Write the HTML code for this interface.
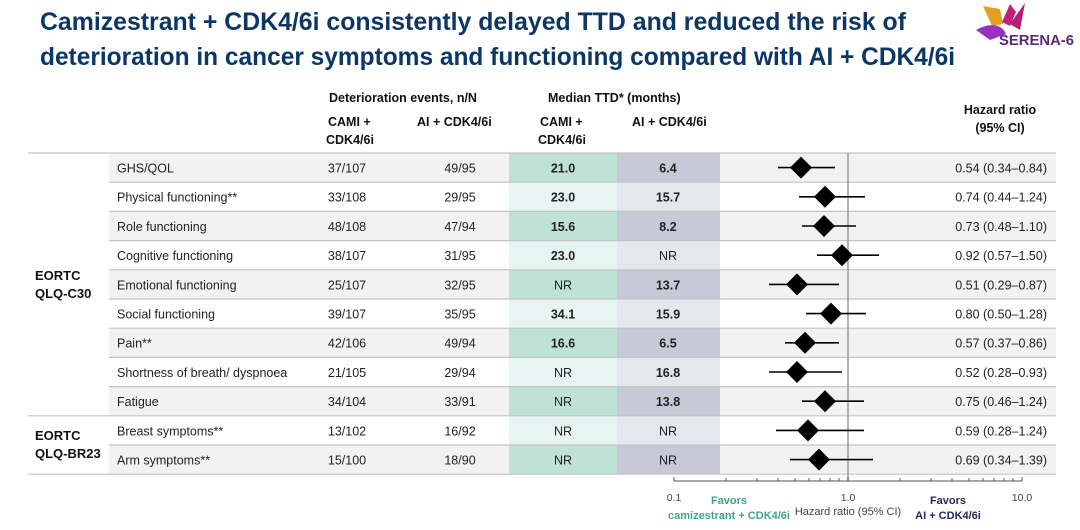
<!DOCTYPE html>
<html><head><meta charset="utf-8"><style>
html,body{margin:0;padding:0;background:#fff;}
svg{display:block;font-family:"Liberation Sans",Arial,sans-serif;}
</style></head><body>
<svg width="1080" height="530" viewBox="0 0 1080 530" xmlns="http://www.w3.org/2000/svg">
<g fill="#0c3765" font-weight="bold" font-size="25">
<text x="40" y="30" textLength="866" lengthAdjust="spacingAndGlyphs">Camizestrant + CDK4/6i consistently delayed TTD and reduced the risk of</text>
<text x="40" y="65" textLength="915" lengthAdjust="spacingAndGlyphs">deterioration in cancer symptoms and functioning compared with AI + CDK4/6i</text>
</g>
<g>
<path d="M983 6 L1000 9 L1003 24 L992 26 Z" fill="#e0a020"/>
<path d="M1002 22 L1010 4 L1016 12 L1010 26 Z" fill="#c0207a"/>
<path d="M1010 24 L1025 3 L1020 30 Z" fill="#b0207a"/>
<path d="M976 30 C990 22 1002 24 1006 34 L990 40 Z" fill="#9a30c0"/>
<text x="999" y="45" font-size="15" font-weight="bold" fill="#5a2a7a" textLength="75" lengthAdjust="spacingAndGlyphs">SERENA-6</text>
</g>
<g font-size="12.5" font-weight="bold" fill="#111">
<text x="329" y="102">Deterioration events, n/N</text>
<text x="548" y="102">Median TTD* (months)</text>
<text x="328" y="126">CAMI +</text>
<text x="326" y="144">CDK4/6i</text>
<text x="417" y="126">AI + CDK4/6i</text>
<text x="540" y="126">CAMI +</text>
<text x="538" y="144">CDK4/6i</text>
<text x="632" y="126">AI + CDK4/6i</text>
<text x="1000" y="114" text-anchor="middle">Hazard ratio</text>
<text x="1000" y="132" text-anchor="middle">(95% CI)</text>
</g>
<g>
<rect x="109" y="153" width="947" height="29.2" fill="#f2f2f2"/>
<rect x="109" y="211.4" width="947" height="29.2" fill="#f2f2f2"/>
<rect x="109" y="269.8" width="947" height="29.2" fill="#f2f2f2"/>
<rect x="109" y="328.2" width="947" height="29.2" fill="#f2f2f2"/>
<rect x="109" y="386.6" width="947" height="29.2" fill="#f2f2f2"/>
<rect x="109" y="445" width="947" height="29.2" fill="#f2f2f2"/>
<rect x="509" y="153" width="108" height="321" fill="#e6f5f1"/>
<rect x="617" y="153" width="103" height="321" fill="#e4e7ee"/>
<g fill="#bfe2d6">
<rect x="509" y="153" width="108" height="29.2"/><rect x="509" y="211.4" width="108" height="29.2"/><rect x="509" y="269.8" width="108" height="29.2"/><rect x="509" y="328.2" width="108" height="29.2"/><rect x="509" y="386.6" width="108" height="29.2"/><rect x="509" y="445" width="108" height="29.2"/>
</g>
<g fill="#c8c9d7">
<rect x="617" y="153" width="103" height="29.2"/><rect x="617" y="211.4" width="103" height="29.2"/><rect x="617" y="269.8" width="103" height="29.2"/><rect x="617" y="328.2" width="103" height="29.2"/><rect x="617" y="386.6" width="103" height="29.2"/><rect x="617" y="445" width="103" height="29.2"/>
</g>
<g stroke="#c4c4c4" stroke-width="1.2">
<line x1="28" y1="153" x2="1056" y2="153"/>
<line x1="109" y1="182.2" x2="1056" y2="182.2"/>
<line x1="109" y1="211.4" x2="1056" y2="211.4"/>
<line x1="109" y1="240.6" x2="1056" y2="240.6"/>
<line x1="109" y1="269.8" x2="1056" y2="269.8"/>
<line x1="109" y1="299" x2="1056" y2="299"/>
<line x1="109" y1="328.2" x2="1056" y2="328.2"/>
<line x1="109" y1="357.4" x2="1056" y2="357.4"/>
<line x1="109" y1="386.6" x2="1056" y2="386.6"/>
<line x1="28" y1="415.8" x2="1056" y2="415.8"/>
<line x1="109" y1="445" x2="1056" y2="445"/>
<line x1="28" y1="474.2" x2="1056" y2="474.2"/>
</g>
</g>
<g font-size="13" font-weight="bold" fill="#111">
<text x="35" y="280">EORTC</text><text x="35" y="298">QLQ-C30</text>
<text x="35" y="440">EORTC</text><text x="35" y="458">QLQ-BR23</text>
</g>
<g font-size="12.5" fill="#222">
<g transform="translate(0,172.5)"><text x="117">GHS/QOL</text><text x="347" text-anchor="middle">37/107</text><text x="460" text-anchor="middle">49/95</text><text x="563" text-anchor="middle" font-weight="bold">21.0</text><text x="668" text-anchor="middle" font-weight="bold">6.4</text><text x="1047" text-anchor="end">0.54 (0.34–0.84)</text></g>
<g transform="translate(0,201.7)"><text x="117">Physical functioning**</text><text x="347" text-anchor="middle">33/108</text><text x="460" text-anchor="middle">29/95</text><text x="563" text-anchor="middle" font-weight="bold">23.0</text><text x="668" text-anchor="middle" font-weight="bold">15.7</text><text x="1047" text-anchor="end">0.74 (0.44–1.24)</text></g>
<g transform="translate(0,230.9)"><text x="117">Role functioning</text><text x="347" text-anchor="middle">48/108</text><text x="460" text-anchor="middle">47/94</text><text x="563" text-anchor="middle" font-weight="bold">15.6</text><text x="668" text-anchor="middle" font-weight="bold">8.2</text><text x="1047" text-anchor="end">0.73 (0.48–1.10)</text></g>
<g transform="translate(0,260.1)"><text x="117">Cognitive functioning</text><text x="347" text-anchor="middle">38/107</text><text x="460" text-anchor="middle">31/95</text><text x="563" text-anchor="middle" font-weight="bold">23.0</text><text x="668" text-anchor="middle">NR</text><text x="1047" text-anchor="end">0.92 (0.57–1.50)</text></g>
<g transform="translate(0,289.3)"><text x="117">Emotional functioning</text><text x="347" text-anchor="middle">25/107</text><text x="460" text-anchor="middle">32/95</text><text x="563" text-anchor="middle">NR</text><text x="668" text-anchor="middle" font-weight="bold">13.7</text><text x="1047" text-anchor="end">0.51 (0.29–0.87)</text></g>
<g transform="translate(0,318.5)"><text x="117">Social functioning</text><text x="347" text-anchor="middle">39/107</text><text x="460" text-anchor="middle">35/95</text><text x="563" text-anchor="middle" font-weight="bold">34.1</text><text x="668" text-anchor="middle" font-weight="bold">15.9</text><text x="1047" text-anchor="end">0.80 (0.50–1.28)</text></g>
<g transform="translate(0,347.7)"><text x="117">Pain**</text><text x="347" text-anchor="middle">42/106</text><text x="460" text-anchor="middle">49/94</text><text x="563" text-anchor="middle" font-weight="bold">16.6</text><text x="668" text-anchor="middle" font-weight="bold">6.5</text><text x="1047" text-anchor="end">0.57 (0.37–0.86)</text></g>
<g transform="translate(0,376.9)"><text x="117">Shortness of breath/ dyspnoea</text><text x="347" text-anchor="middle">21/105</text><text x="460" text-anchor="middle">29/94</text><text x="563" text-anchor="middle">NR</text><text x="668" text-anchor="middle" font-weight="bold">16.8</text><text x="1047" text-anchor="end">0.52 (0.28–0.93)</text></g>
<g transform="translate(0,406.1)"><text x="117">Fatigue</text><text x="347" text-anchor="middle">34/104</text><text x="460" text-anchor="middle">33/91</text><text x="563" text-anchor="middle">NR</text><text x="668" text-anchor="middle" font-weight="bold">13.8</text><text x="1047" text-anchor="end">0.75 (0.46–1.24)</text></g>
<g transform="translate(0,435.3)"><text x="117">Breast symptoms**</text><text x="347" text-anchor="middle">13/102</text><text x="460" text-anchor="middle">16/92</text><text x="563" text-anchor="middle">NR</text><text x="668" text-anchor="middle">NR</text><text x="1047" text-anchor="end">0.59 (0.28–1.24)</text></g>
<g transform="translate(0,464.5)"><text x="117">Arm symptoms**</text><text x="347" text-anchor="middle">15/100</text><text x="460" text-anchor="middle">18/90</text><text x="563" text-anchor="middle">NR</text><text x="668" text-anchor="middle">NR</text><text x="1047" text-anchor="end">0.69 (0.34–1.39)</text></g>
</g>
<line x1="848" y1="153" x2="848" y2="481" stroke="#999" stroke-width="1.5"/>
<g stroke="#000" stroke-width="1.6">
<line x1="778" y1="167.6" x2="835" y2="167.6"/>
<line x1="799" y1="196.8" x2="865" y2="196.8"/>
<line x1="802" y1="226" x2="856" y2="226"/>
<line x1="817" y1="255.2" x2="879" y2="255.2"/>
<line x1="769" y1="284.4" x2="839" y2="284.4"/>
<line x1="806" y1="313.6" x2="866" y2="313.6"/>
<line x1="785" y1="342.8" x2="839" y2="342.8"/>
<line x1="769" y1="372" x2="842" y2="372"/>
<line x1="802" y1="401.2" x2="864" y2="401.2"/>
<line x1="776" y1="430.4" x2="864" y2="430.4"/>
<line x1="790" y1="459.6" x2="873" y2="459.6"/>
</g>
<g fill="#000">
<path d="M801 156.6 l11 11 l-11 11 l-11 -11z"/>
<path d="M825 185.8 l11 11 l-11 11 l-11 -11z"/>
<path d="M824 215 l11 11 l-11 11 l-11 -11z"/>
<path d="M842 244.2 l11 11 l-11 11 l-11 -11z"/>
<path d="M797 273.4 l11 11 l-11 11 l-11 -11z"/>
<path d="M831 302.6 l11 11 l-11 11 l-11 -11z"/>
<path d="M805 331.8 l11 11 l-11 11 l-11 -11z"/>
<path d="M797 361 l11 11 l-11 11 l-11 -11z"/>
<path d="M825 390.2 l11 11 l-11 11 l-11 -11z"/>
<path d="M808 419.4 l11 11 l-11 11 l-11 -11z"/>
<path d="M819 448.6 l11 11 l-11 11 l-11 -11z"/>
</g>
<g stroke="#555" stroke-width="1">
<line x1="674" y1="481" x2="1022" y2="481"/>
<line x1="674" y1="477" x2="674" y2="481"/><line x1="726" y1="478" x2="726" y2="481"/><line x1="757" y1="478" x2="757" y2="481"/><line x1="778" y1="478" x2="778" y2="481"/><line x1="795" y1="478" x2="795" y2="481"/><line x1="809" y1="478" x2="809" y2="481"/><line x1="820" y1="478" x2="820" y2="481"/><line x1="830" y1="478" x2="830" y2="481"/><line x1="839" y1="478" x2="839" y2="481"/>
<line x1="848" y1="477" x2="848" y2="481"/><line x1="900" y1="478" x2="900" y2="481"/><line x1="931" y1="478" x2="931" y2="481"/><line x1="952" y1="478" x2="952" y2="481"/><line x1="969" y1="478" x2="969" y2="481"/><line x1="983" y1="478" x2="983" y2="481"/><line x1="994" y1="478" x2="994" y2="481"/><line x1="1004" y1="478" x2="1004" y2="481"/><line x1="1013" y1="478" x2="1013" y2="481"/><line x1="1022" y1="477" x2="1022" y2="481"/>
</g>
<g font-size="10.5" fill="#444">
<text x="674" y="501" text-anchor="middle">0.1</text>
<text x="848" y="501" text-anchor="middle">1.0</text>
<text x="1022" y="501" text-anchor="middle">10.0</text>
<text x="848" y="515" text-anchor="middle" font-size="11">Hazard ratio (95% CI)</text>
</g>
<g font-size="11" font-weight="bold">
<text x="729" y="504" text-anchor="middle" fill="#3fa58a">Favors</text>
<text x="729" y="519" text-anchor="middle" fill="#3fa58a">camizestrant + CDK4/6i</text>
<text x="948" y="504" text-anchor="middle" fill="#1f2a5a">Favors</text>
<text x="948" y="519" text-anchor="middle" fill="#1f2a5a">AI + CDK4/6i</text>
</g>
</svg>
</body></html>
